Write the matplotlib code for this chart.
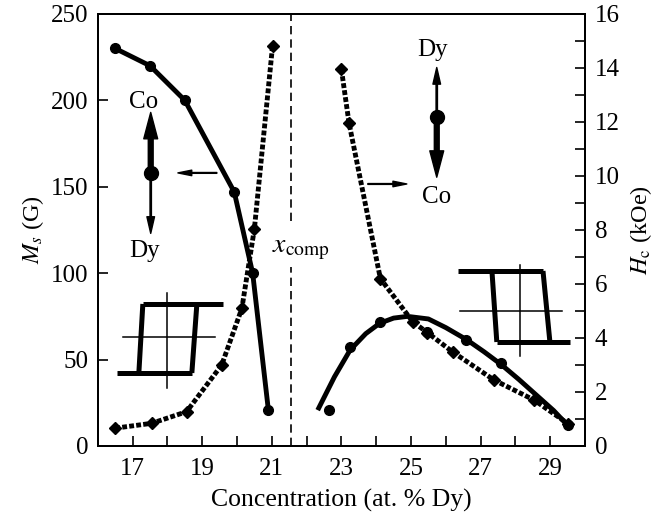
import matplotlib
matplotlib.use("Agg")
import matplotlib.pyplot as plt
from matplotlib.ticker import MultipleLocator

plt.rcParams['font.family'] = ['Liberation Serif', 'DejaVu Serif']
plt.rcParams['mathtext.fontset'] = 'stix'

# Ms (left axis), compensation below x_comp
ms_x_left = [16.5, 17.5, 18.5, 19.92, 20.45, 20.9]
ms_left = [230, 220, 200, 147, 100, 21]

# Ms data points above x_comp and the smooth fitted curve
ms_x_right = [22.63, 23.26, 24.12, 25.47, 26.57, 27.58, 29.52]
ms_right = [21, 57.5, 72, 66, 61.3, 48, 12]
fit_x = [22.35, 22.8, 23.25, 23.7, 24.1, 24.5, 24.9, 25.5, 26.0, 26.6, 27.1, 27.6, 28.1, 28.6, 29.1, 29.5]
fit_ms = [22, 40, 55.5, 65, 71, 74, 75, 73.5, 68.5, 61.5, 54.5, 47, 38.5, 29.5, 20.5, 12]

# Hc (right axis)
hc_x_left = [16.5, 17.55, 18.55, 19.56, 20.14, 20.5, 21.02]
hc_left = [0.66, 0.84, 1.27, 3.0, 5.1, 8.05, 14.8]
hc_x_right = [23.0, 23.22, 24.12, 25.05, 25.47, 26.2, 27.39, 28.54, 29.52]
hc_right = [13.95, 11.95, 6.2, 4.6, 4.2, 3.48, 2.44, 1.7, 0.82]

x_comp = 21.56

fig = plt.figure(figsize=(6.61, 5.15), dpi=100)
ax = fig.add_axes([0.148, 0.134, 0.737, 0.839])
ax2 = ax.twinx()

ax.plot(ms_x_left, ms_left, '-o', color='k', lw=3.5, ms=7)
ax.plot(fit_x, fit_ms, '-', color='k', lw=3.5)
ax.plot(ms_x_right, ms_right, 'o', color='k', ms=7)

dots = (0, (1.0, 0.45))
ax2.plot(hc_x_left, hc_left, color='k', lw=3.5, ls=dots, marker='D', ms=6)
ax2.plot(hc_x_right, hc_right, color='k', lw=3.5, ls=dots, marker='D', ms=6)

# compensation line with a gap for the label
ax.axvline(x_comp, ymin=0, ymax=0.415, color='k', lw=1.2, ls=(0, (5, 3)))
ax.axvline(x_comp, ymin=0.52, ymax=1, color='k', lw=1.2, ls=(0, (5, 3)))
ax.text(21.84, 0.455, r'$x_\mathrm{comp}$', transform=ax.get_xaxis_transform(),
        fontsize=20, ha='center', va='center')

# hysteresis loop sketches (axes fraction)
tr = ax.transAxes
for xs, ys in [([0.0924, 0.2567], [0.3287, 0.3287]), ([0.039, 0.193], [0.169, 0.169]),
               ([0.0924, 0.0842], [0.3287, 0.169]), ([0.193, 0.2033], [0.169, 0.3287]),
               ([0.739, 0.9138], [0.405, 0.405]), ([0.819, 0.969], [0.2407, 0.2407]),
               ([0.9138, 0.928], [0.405, 0.2407]), ([0.819, 0.809], [0.2407, 0.405])]:
    ax.plot(xs, ys, color='k', lw=3.6, transform=tr, solid_capstyle='butt')
for xs, ys in [([0.1417, 0.1417], [0.354, 0.134]), ([0.0513, 0.240], [0.252, 0.252]),
               ([0.8665, 0.8665], [0.419, 0.208]), ([0.743, 0.953], [0.3125, 0.3125])]:
    ax.plot(xs, ys, color='k', lw=1.1, transform=tr)

# sublattice moment arrows
thick = dict(facecolor='k', edgecolor='k', width=3.5, headwidth=10, headlength=19, shrink=0)
thin = dict(facecolor='k', edgecolor='k', width=1.0, headwidth=5.5, headlength=12, shrink=0)
ax.annotate('', xy=(17.52, 193), xytext=(17.52, 158), arrowprops=thick)
ax.annotate('', xy=(17.52, 123), xytext=(17.52, 158), arrowprops=thin)
ax.plot([17.52], [158], 'o', color='k', ms=10)
ax.text(17.3, 199, 'Co', fontsize=18, ha='center', va='center')
ax.text(17.35, 113, 'Dy', fontsize=18, ha='center', va='center')
ax.annotate('', xy=(18.3, 158), xytext=(19.42, 158),
            arrowprops=dict(facecolor='k', edgecolor='k', width=0.6, headwidth=4, headlength=10, shrink=0))

ax.annotate('', xy=(25.74, 219), xytext=(25.74, 190.4), arrowprops=thin)
ax.annotate('', xy=(25.74, 155.5), xytext=(25.74, 190.4), arrowprops=thick)
ax.plot([25.74], [190.4], 'o', color='k', ms=10)
ax.text(25.63, 229, 'Dy', fontsize=18, ha='center', va='center')
ax.text(25.74, 144, 'Co', fontsize=18, ha='center', va='center')
ax.annotate('', xy=(24.88, 151.6), xytext=(23.76, 151.6),
            arrowprops=dict(facecolor='k', edgecolor='k', width=0.6, headwidth=4, headlength=10, shrink=0))

ax.set_xlim(16, 30)
ax.set_ylim(0, 250)
ax2.set_ylim(0, 16)
ax.set_xticks([17, 19, 21, 23, 25, 27, 29])
ax.xaxis.set_minor_locator(MultipleLocator(2))
ax.set_yticks([0, 50, 100, 150, 200, 250])
ax2.set_yticks([0, 2, 4, 6, 8, 10, 12, 14, 16])
ax2.yaxis.set_minor_locator(MultipleLocator(1))

for a in (ax, ax2):
    a.tick_params(which='both', direction='in', length=7, width=1.2, labelsize=18, pad=7)
    for s in a.spines.values():
        s.set_linewidth(1.4)
ax.tick_params(axis='x', pad=9)
ax.tick_params(axis='y', right=False)
ax2.tick_params(axis='y', left=False)

ax.set_xlabel('Concentration (at. % Dy)', fontsize=18.5, labelpad=6)
ax.set_ylabel(r'$M_s$ (G)', fontsize=17.5, labelpad=3)
ax2.set_ylabel(r'$H_\mathrm{c}$ (kOe)', fontsize=17.5, labelpad=6)

fig.savefig('out.png', dpi=100)
